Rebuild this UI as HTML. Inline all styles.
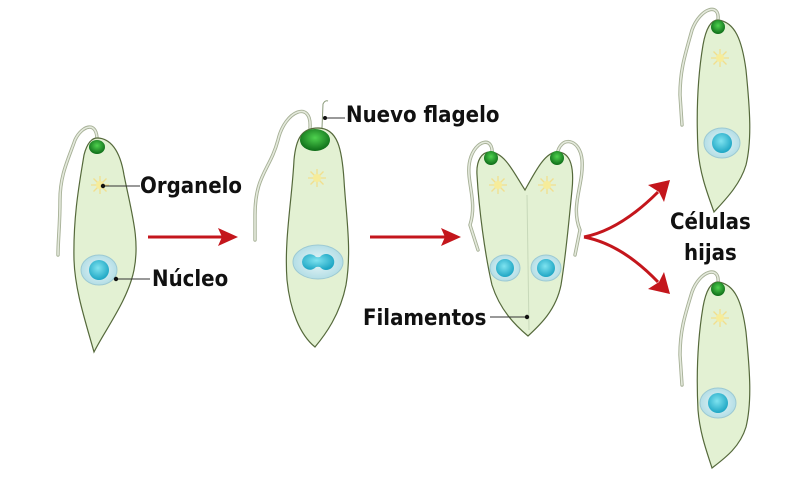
<!DOCTYPE html>
<html><head><meta charset="utf-8"><style>
html,body{margin:0;padding:0;background:#fff;width:800px;height:478px;overflow:hidden}
text{font-family:"DejaVu Sans Condensed","DejaVu Sans","Liberation Sans",sans-serif;font-weight:bold;fill:#111}
</style></head><body>
<svg width="800" height="478" viewBox="0 0 800 478" xmlns="http://www.w3.org/2000/svg">
<defs>
<radialGradient id="nuc" cx="0.45" cy="0.4" r="0.6"><stop offset="0" stop-color="#7fe3f0"/><stop offset="1" stop-color="#1ea6c4"/></radialGradient>
<radialGradient id="env" cx="0.5" cy="0.5" r="0.6"><stop offset="0" stop-color="#e8f6f8"/><stop offset="1" stop-color="#a9d9e2"/></radialGradient>
<radialGradient id="eye" cx="0.5" cy="0.4" r="0.6"><stop offset="0" stop-color="#4fd24f"/><stop offset="1" stop-color="#0d6b17"/></radialGradient>
<g id="sun"><g stroke="#f1df8e" stroke-width="1.3">
<line x1="-9" y1="0" x2="9" y2="0"/><line x1="0" y1="-9" x2="0" y2="9"/><line x1="-6.5" y1="-6.5" x2="6.5" y2="6.5"/><line x1="-6.5" y1="6.5" x2="6.5" y2="-6.5"/></g><circle r="4" fill="#f6ec9a"/></g>
<g id="nucl"><ellipse rx="18" ry="15" fill="url(#env)" stroke="#9cc9d3" stroke-width="1"/><circle r="10" fill="url(#nuc)"/></g>
<g id="nucs"><ellipse rx="15" ry="13" fill="url(#env)" stroke="#9cc9d3" stroke-width="1"/><circle r="9" fill="url(#nuc)"/></g>
</defs>
<g fill="none" stroke="#a6b096" stroke-width="3.4" stroke-linecap="round">
<path id="f1" d="M97 142 C98 120 82 125 75 140 C68 160 60 175 60 200 C60 225 58 240 58 255"/>
<path d="M310 128 C312 100 285 110 278 140 C270 170 255 175 255 215 L255 240"/>
<path d="M492 155 C494 135 475 140 470 160 C465 180 478 200 470 225 L478 250"/>
<path d="M557 155 C560 135 580 138 582 160 C584 185 570 205 580 230 L575 255"/>
<path d="M718 20 C720 2 700 8 692 30 C685 55 680 70 680 95 L682 125"/>
<path d="M718 283 C720 265 700 270 692 292 C685 315 680 330 680 355 L682 385"/>
</g>
<g fill="none" stroke="#e4e9dc" stroke-width="1.6" stroke-linecap="round">
<path d="M97 142 C98 120 82 125 75 140 C68 160 60 175 60 200 C60 225 58 240 58 255"/>
<path d="M310 128 C312 100 285 110 278 140 C270 170 255 175 255 215 L255 240"/>
<path d="M492 155 C494 135 475 140 470 160 C465 180 478 200 470 225 L478 250"/>
<path d="M557 155 C560 135 580 138 582 160 C584 185 570 205 580 230 L575 255"/>
<path d="M718 20 C720 2 700 8 692 30 C685 55 680 70 680 95 L682 125"/>
<path d="M718 283 C720 265 700 270 692 292 C685 315 680 330 680 355 L682 385"/>
</g>
<path d="M322 128 L323 104 Q325 100 328 101" fill="none" stroke="#8a9a7a" stroke-width="1"/>
<g fill="#e3f1d3" stroke="#55693b" stroke-width="1.2">
<path d="M97 138 C110 138 120 150 124 175 C132 215 140 240 134 270 C128 300 105 330 94 352 C85 320 75 290 74 260 C73 215 80 180 84 155 C87 143 92 138 97 138 Z"/>
<path d="M318 128 C338 128 342 150 344 180 C346 215 352 250 346 285 C340 315 325 335 315 347 C300 335 290 310 287 280 C284 240 292 200 294 160 C296 138 302 128 318 128 Z"/>
<path d="M490 152 C505 152 515 175 525 190 C535 172 545 152 557 152 C572 152 574 170 572 190 C569 220 566 255 561 285 C556 310 540 325 528 336 C515 325 500 310 492 285 C485 255 479 210 477 175 C476 160 482 152 490 152 Z"/>
<path d="M718 20 C735 22 742 40 746 70 C750 110 752 140 746 165 C740 185 725 200 714 212 C708 195 700 175 698 150 C696 110 698 75 703 45 C706 28 711 20 718 20 Z"/>
<path d="M718 282 C735 284 742 302 746 332 C750 372 752 402 746 427 C740 447 725 458 712 468 C708 455 700 435 698 410 C696 370 698 337 703 307 C706 290 711 282 718 282 Z"/>
</g>
<line x1="527" y1="195" x2="529" y2="330" stroke="#c7d8b9" stroke-width="1"/>
<g fill="url(#eye)">
<ellipse cx="97" cy="147" rx="8" ry="7"/>
<ellipse cx="315" cy="140" rx="15" ry="11"/>
<ellipse cx="491" cy="158" rx="7" ry="7"/>
<ellipse cx="557" cy="158" rx="7" ry="7"/>
<ellipse cx="718" cy="27" rx="7" ry="7"/>
<ellipse cx="718" cy="289" rx="7" ry="7"/>
</g>
<use href="#sun" x="100" y="185"/>
<use href="#sun" x="317" y="178"/>
<use href="#sun" x="498" y="185"/>
<use href="#sun" x="547" y="185"/>
<use href="#sun" x="720" y="58"/>
<use href="#sun" x="720" y="318"/>
<use href="#nucl" x="99" y="270"/>
<ellipse cx="318" cy="262" rx="25" ry="17" fill="url(#env)" stroke="#9cc9d3"/>
<path d="M302 262 a8 8 0 0 1 14 -5 a6 4 0 0 0 4 0 a8 8 0 1 1 0 10 a6 4 0 0 0 -4 0 a8 8 0 0 1 -14 -5Z" fill="url(#nuc)"/>
<use href="#nucs" x="505" y="268"/>
<use href="#nucs" x="546" y="268"/>
<use href="#nucl" x="722" y="143"/>
<use href="#nucl" x="718" y="403"/>
<g stroke="#333" stroke-width="1" fill="none">
<line x1="103" y1="186" x2="140" y2="186"/>
<line x1="116" y1="279" x2="150" y2="279"/>
<path d="M325 118 L345 118"/>
<line x1="490" y1="317" x2="527" y2="317"/>
</g>
<g fill="#111"><circle cx="103" cy="186" r="2.2"/><circle cx="116" cy="279" r="2.2"/><circle cx="325" cy="118" r="2"/><circle cx="527" cy="317" r="2.2"/></g>
<g fill="#c4161c" stroke="#c4161c">
<line x1="148" y1="237" x2="222" y2="237" stroke-width="3"/><path d="M218 228 L238 237 L218 246 L222 237Z" stroke="none"/>
<line x1="370" y1="237" x2="445" y2="237" stroke-width="3"/><path d="M441 228 L461 237 L441 246 L445 237Z" stroke="none"/>
<path d="M584 237 C610 232 635 215 658 192" fill="none" stroke-width="3"/>
<path d="M648 185 L670 180 L664 202 L659 192Z" stroke="none"/>
<path d="M584 237 C610 242 635 258 658 282" fill="none" stroke-width="3"/>
<path d="M648 289 L670 294 L664 272 L659 282Z" stroke="none"/>
</g>
<text x="140" y="193" font-size="22">Organelo</text>
<text x="152" y="286" font-size="22">Núcleo</text>
<text x="346" y="122" font-size="22">Nuevo flagelo</text>
<text x="363" y="325" font-size="22">Filamentos</text>
<text x="670" y="229" font-size="22">Células</text>
<text x="684" y="260" font-size="22">hijas</text>
</svg>
</body></html>
